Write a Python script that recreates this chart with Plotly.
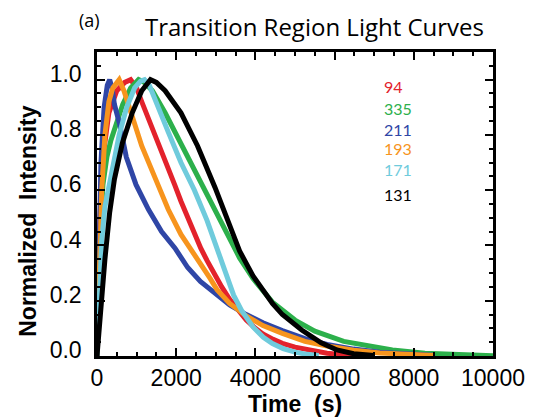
import plotly.graph_objects as go

# ---- data ----
t_94 = [0, 60, 150, 300, 500, 700, 850, 1000, 1130, 1300, 1480, 1640, 1800, 1960, 2120, 2290, 2460, 2620,
        2780, 2950, 3150, 3350, 3560, 3770, 4000, 4190, 4450, 4680, 5000, 5250, 5500, 5810, 6200, 6600, 7000]
i_94 = [0, 0.45, 0.72, 0.88, 0.96, 0.99, 1.0, 0.97, 0.92, 0.86, 0.80, 0.74, 0.68, 0.62, 0.56, 0.50, 0.44, 0.39,
        0.345, 0.30, 0.25, 0.205, 0.165, 0.13, 0.10, 0.08, 0.06, 0.046, 0.032, 0.024, 0.017, 0.01, 0.005, 0.002, 0.0]

t_335 = [0, 50, 100, 150, 250, 350, 470, 650, 850, 1050, 1200, 1400, 1720, 2120, 2540, 2960, 3300, 3600,
         3940, 4430, 5000, 5500, 6230, 7000, 7460, 8280, 9000, 10000]
i_335 = [0, 0.3, 0.5, 0.62, 0.72, 0.78, 0.83, 0.91, 0.97, 1.0, 0.99, 0.96, 0.88, 0.77, 0.65, 0.53, 0.44, 0.355,
         0.28, 0.195, 0.13, 0.09, 0.053, 0.032, 0.022, 0.01, 0.005, 0.001]

t_211 = [0, 40, 100, 180, 260, 320, 380, 440, 570, 740, 985, 1300, 1630, 1970, 2290, 2610, 2950, 3350, 3770,
         4190, 4680, 5250, 5810, 6480, 7140, 7880, 8500]
i_211 = [0, 0.35, 0.7, 0.9, 0.98, 1.0, 0.97, 0.91, 0.84, 0.72, 0.62, 0.53, 0.45, 0.39, 0.32, 0.27, 0.23, 0.185,
         0.15, 0.12, 0.092, 0.063, 0.042, 0.025, 0.014, 0.007, 0.003]

t_193 = [0, 50, 120, 200, 300, 400, 560, 680, 890, 1130, 1480, 1800, 2120, 2460, 2860, 3030, 3350, 3770, 4190,
         4680, 5250, 5810, 6480, 7140, 7880, 8500]
i_193 = [0, 0.3, 0.6, 0.8, 0.92, 0.97, 1.0, 0.96, 0.865, 0.76, 0.64, 0.53, 0.44, 0.37, 0.28, 0.24, 0.19, 0.145,
         0.11, 0.082, 0.053, 0.036, 0.021, 0.011, 0.005, 0.002]

t_171 = [0, 50, 120, 200, 370, 560, 750, 950, 1100, 1200, 1320, 1480, 1800, 2120, 2460, 2780, 3030, 3250, 3450,
         3650, 3940, 4200, 4430, 4700, 5000, 5300, 5600]
i_171 = [0, 0.22, 0.42, 0.54, 0.67, 0.8, 0.9, 0.97, 0.995, 1.0, 0.98, 0.92, 0.81, 0.70, 0.60, 0.49, 0.39, 0.30,
         0.22, 0.165, 0.105, 0.068, 0.045, 0.027, 0.014, 0.006, 0.002]

t_131 = [0, 40, 100, 200, 320, 440, 640, 890, 1130, 1350, 1500, 1720, 2120, 2540, 2980, 3300, 3600, 3940,
         4190, 4430, 4680, 5170, 5660, 6060, 6480, 7000]
i_131 = [0, 0.07, 0.2, 0.35, 0.52, 0.64, 0.77, 0.88, 0.96, 1.0, 0.99, 0.96, 0.88, 0.76, 0.61, 0.49, 0.38,
         0.29, 0.235, 0.19, 0.15, 0.094, 0.048, 0.022, 0.008, 0.002]

channels = ["94", "335", "211", "193", "171", "131"]
colors = ["#e3222c", "#2cb04b", "#2f46a6", "#f7941d", "#6fcbdc", "#000000"]
times = [t_94, t_335, t_211, t_193, t_171, t_131]
ints = [i_94, i_335, i_211, i_193, i_171, i_131]
label_y = [0.975, 0.897, 0.818, 0.750, 0.674, 0.585]

x_ticks = [0, 2000, 4000, 6000, 8000, 10000]
y_ticks = [0.0, 0.2, 0.4, 0.6, 0.8, 1.0]

fig = go.Figure()
for name, c, t, v in zip(channels, colors, times, ints):
    fig.add_trace(go.Scatter(x=t, y=v, mode="lines", name=name,
                             line=dict(color=c, width=5),
                             showlegend=False))

for name, c, ly in zip(channels, colors, label_y):
    fig.add_annotation(x=7200, y=ly, xref="x", yref="y", text=name, showarrow=False,
                       xanchor="left", yanchor="middle",
                       font=dict(family="Lato", size=16, color=c))

L, R, T, B = 97, 32, 52, 58
W, H = 537, 420
pw, ph = W - L - R, H - T - B

fig.add_annotation(x=(321 - L) / pw, y=1 + (T - 26) / ph, xref="paper", yref="paper",
                   text="Transition Region Light Curves", showarrow=False,
                   xanchor="center", yanchor="middle",
                   font=dict(family="Open Sans", size=24, color="black"))
fig.add_annotation(x=(89 - L) / pw, y=1 + (T - 19) / ph, xref="paper", yref="paper", showarrow=False,
                   text="(a)", xanchor="center", yanchor="middle",
                   font=dict(family="Open Sans", size=18, color="black"))
# y-axis title
fig.add_annotation(x=(26 - L) / pw, y=(H - B - 224) / ph, xref="paper", yref="paper", showarrow=False,
                   text="<b>Normalized  Intensity</b>", textangle=-90,
                   xanchor="center", yanchor="middle",
                   font=dict(family="Liberation Sans", size=23, color="black"))

axis_common = dict(showline=True, linecolor="black", linewidth=2.5, mirror="allticks",
                   ticks="inside", ticklen=8, tickwidth=2, tickcolor="black",
                   showgrid=False, zeroline=False,
                   tickfont=dict(family="Liberation Sans", size=23, color="black"))

fig.update_xaxes(range=[0, 10000], tickvals=x_ticks, ticktext=[str(v) for v in x_ticks],
                 minor=dict(dtick=500, ticks="inside", ticklen=4, tickwidth=2, tickcolor="black"),
                 title=dict(text="<b>Time  (s)</b>", standoff=1,
                            font=dict(family="Liberation Sans", size=23, color="black")),
                 **axis_common)
fig.update_yaxes(range=[0, 1.1], tickvals=y_ticks, ticktext=["%.1f" % v for v in y_ticks],
                 minor=dict(dtick=0.05, ticks="inside", ticklen=4, tickwidth=2, tickcolor="black"),
                 ticklabelstandoff=8, ticklabelshift=-6,
                 **axis_common)

fig.update_layout(width=W, height=H, margin=dict(l=L, r=R, t=T, b=B),
                  plot_bgcolor="white", paper_bgcolor="white")
fig.write_html("out.html")
